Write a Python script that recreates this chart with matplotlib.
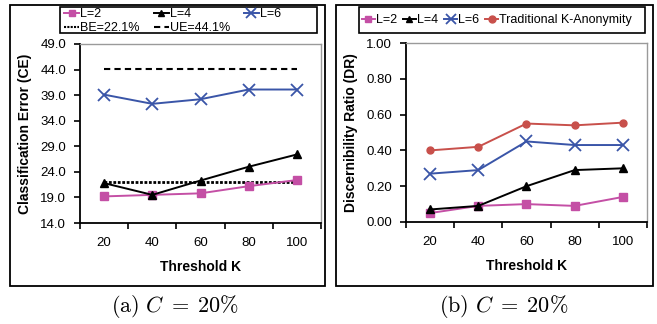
import matplotlib
matplotlib.use('Agg')
import matplotlib.pyplot as plt
from matplotlib.patches import Rectangle
from matplotlib.lines import Line2D

plt.rcParams['font.family'] = 'Liberation Sans'
plt.rcParams['mathtext.fontset'] = 'cm'

# data
k_values = ['20', '40', '60', '80', '100']
ce_l2 = [19.2, 19.5, 19.8, 21.2, 22.4]
ce_l4 = [21.8, 19.5, 22.3, 25.0, 27.4]
ce_l6 = [39.1, 37.3, 38.2, 40.1, 40.1]
be_value = 22.1
ue_value = 44.1

dr_l2 = [0.05, 0.09, 0.10, 0.09, 0.14]
dr_l4 = [0.07, 0.09, 0.20, 0.29, 0.30]
dr_l6 = [0.27, 0.29, 0.45, 0.43, 0.43]
dr_trad = [0.40, 0.42, 0.55, 0.54, 0.555]

pink = '#C44FA5'
blue = '#3A55A8'
red = '#C8504B'

W, H = 657, 324
fig = plt.figure(figsize=(W / 100, H / 100), dpi=100)


def px_rect(x0, y0, x1, y1):
    return [x0 / W, 1 - y1 / H, (x1 - x0) / W, (y1 - y0) / H]


def box(x0, y0, x1, y1, lw):
    r = px_rect(x0, y0, x1, y1)
    fig.add_artist(Rectangle((r[0], r[1]), r[2], r[3], transform=fig.transFigure,
                             fill=False, edgecolor='black', linewidth=lw))


def style_axes(ax, ylim, yticks, fmt):
    n = len(k_values)
    ax.set_xlim(-0.5, n - 0.5)
    ax.set_xticks([i - 0.5 for i in range(n + 1)])
    ax.set_xticklabels([])
    ax.set_xticks(list(range(n)), minor=True)
    ax.set_xticklabels(k_values, minor=True)
    ax.tick_params(axis='x', which='minor', length=0, pad=10, labelsize=9.5)
    ax.tick_params(axis='x', which='major', direction='out', length=4, width=1.2)
    ax.set_ylim(*ylim)
    ax.set_yticks(yticks)
    ax.set_yticklabels([fmt % v for v in yticks])
    ax.tick_params(axis='y', direction='out', length=4, width=1.2, pad=6, labelsize=9.5)
    for s in ['left', 'bottom']:
        ax.spines[s].set_linewidth(1.3)
        ax.spines[s].set_color('black')
    for s in ['top', 'right']:
        ax.spines[s].set_color('#9A9A9A')
        ax.spines[s].set_linewidth(1.0)
    ax.set_xlabel('Threshold K', fontweight='bold', fontsize=10)
    ax.xaxis.set_label_coords(0.5, -0.205)


# frames around each chart and around the legends
box(10, 5, 325, 286, 1.3)
box(336, 5, 653, 286, 1.3)
box(60, 7, 317, 33, 1.2)
box(359, 7, 645, 33, 1.2)

x = list(range(len(k_values)))

# (a) classification error
ax1 = fig.add_axes(px_rect(80, 44, 321, 223))
ax1.plot(x, [ue_value] * len(x), color='black', linestyle=(0, (3, 2)), linewidth=1.5)
ax1.plot(x, [be_value] * len(x), color='black', linestyle=(0, (1, 0.6)), linewidth=2)
ax1.plot(x, ce_l2, color=pink, marker='s', markersize=6, linewidth=1.4)
ax1.plot(x, ce_l4, color='black', marker='^', markersize=6, linewidth=1.4)
ax1.plot(x, ce_l6, color=blue, marker='x', markersize=9, markeredgewidth=1.3, linewidth=1.4)
style_axes(ax1, (14.0, 49.0), [14.0, 19.0, 24.0, 29.0, 34.0, 39.0, 44.0, 49.0], '%.1f')
ax1.set_ylabel('Classification Error (CE)', fontweight='bold', fontsize=10)
ax1.yaxis.set_label_coords(-0.2, 0.5)

h_l2 = Line2D([], [], color=pink, marker='s', markersize=5, linewidth=1.4)
h_l4 = Line2D([], [], color='black', marker='^', markersize=5, linewidth=1.4)
h_l6 = Line2D([], [], color=blue, marker='x', markersize=7, markeredgewidth=1.3, linewidth=1.4)
h_be = Line2D([], [], color='black', linestyle=(0, (1, 0.6)), linewidth=1.5)
h_ue = Line2D([], [], color='black', linestyle=(0, (3, 2)), linewidth=1.5)
fig.legend([h_l2, h_be, h_l4, h_ue, h_l6],
           ['L=2', 'BE=22.1%', 'L=4', 'UE=44.1%', 'L=6'],
           ncol=3, loc='center left', bbox_to_anchor=(64 / W, 1 - 21 / H),
           frameon=False, fontsize=9,
           handlelength=1.2, handletextpad=0.1, columnspacing=1.1,
           labelspacing=0.15, borderpad=0, borderaxespad=0)

# (b) discernibility ratio
ax2 = fig.add_axes(px_rect(406, 43, 647, 222))
ax2.plot(x, dr_l2, color=pink, marker='s', markersize=6, linewidth=1.4)
ax2.plot(x, dr_l4, color='black', marker='^', markersize=6, linewidth=1.4)
ax2.plot(x, dr_l6, color=blue, marker='x', markersize=9, markeredgewidth=1.3, linewidth=1.4)
ax2.plot(x, dr_trad, color=red, marker='o', markersize=5, linewidth=1.4)
style_axes(ax2, (0.0, 1.0), [0.0, 0.2, 0.4, 0.6, 0.8, 1.0], '%.2f')
ax2.set_ylabel('Discernibility Ratio (DR)', fontweight='bold', fontsize=10)
ax2.yaxis.set_label_coords(-0.2, 0.5)

h_tr = Line2D([], [], color=red, marker='o', markersize=5, linewidth=1.4)
fig.legend([h_l2, h_l4, h_l6, h_tr],
           ['L=2', 'L=4', 'L=6', 'Traditional K-Anonymity'],
           ncol=4, loc='center left', bbox_to_anchor=(362 / W, 1 - 20 / H),
           frameon=False, fontsize=9,
           handlelength=1.0, handletextpad=0.1, columnspacing=0.5,
           borderpad=0, borderaxespad=0)

# captions
fig.text(175 / W, 1 - 306 / H, r'$\mathrm{(a)}\ C\;=\;20\%$', fontsize=16, ha='center', va='center')
fig.text(504 / W, 1 - 306 / H, r'$\mathrm{(b)}\ C\;=\;20\%$', fontsize=16, ha='center', va='center')

fig.savefig('out.png', dpi=100)
